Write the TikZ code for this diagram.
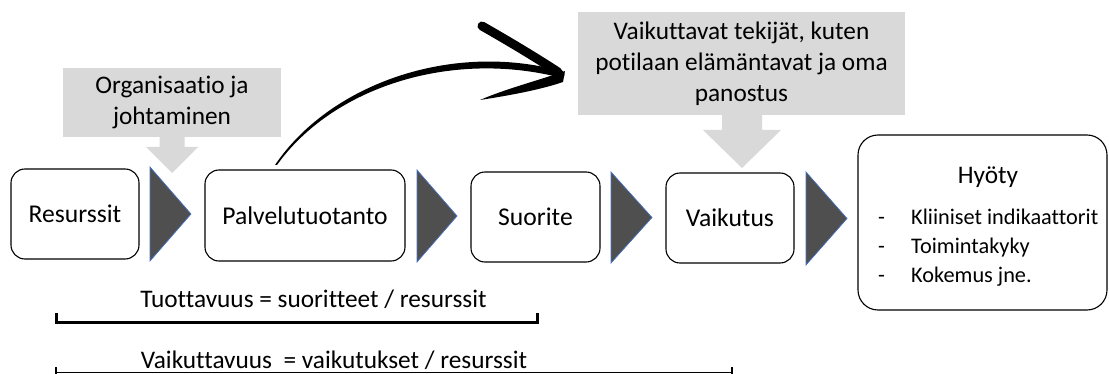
\documentclass[tikz,border=0pt]{standalone}
\usepackage{fontspec}
\setmainfont[Ligatures={NoCommon}]{Carlito}
\definecolor{calloutgray}{HTML}{D9D9D9}
\definecolor{tridark}{HTML}{4F4F4F}
\definecolor{triblue}{HTML}{4472C4}
\begin{document}
\begin{tikzpicture}[x=1pt,y=-1pt,
  rbox/.style={draw=black, line width=1.1pt, rounded corners=14pt, fill=white,
    font=\fontsize{25.6}{30}\selectfont, inner sep=0pt},
  tri/.style={fill=tridark, draw=triblue, line width=0.7pt, line join=miter},
  callout/.style={fill=calloutgray, draw=none, font=\fontsize{25.3}{31}\selectfont,
    align=center, inner sep=0pt},
  bigtxt/.style={font=\fontsize{25.3}{30}\selectfont, inner sep=0pt, anchor=base},
  itemtxt/.style={font=\fontsize{22.3}{29}\selectfont, inner sep=0pt, anchor=base west},
  brush/.style={fill=black, draw=none}]
\useasboundingbox (0,0) rectangle (1109,374);

% callouts
\node[callout, minimum width=218pt, minimum height=69pt] (org) at (172,102.5) {Organisaatio ja\\johtaminen};
\fill[calloutgray] (159.5,136.5) -- (159.5,147) -- (146,147) -- (172,173) -- (198,147) -- (184.5,147) -- (184.5,136.5) -- cycle;

\node[callout, minimum width=327pt, minimum height=103pt] (tek) at (741.5,63.5) {Vaikuttavat tekijät, kuten\\potilaan elämäntavat ja oma\\panostus};
\fill[calloutgray] (722,114.5) -- (722,130) -- (703,130) -- (742,168) -- (781,130) -- (762,130) -- (762,114.5) -- cycle;

% process boxes
\node[rbox, minimum width=128pt, minimum height=90pt] (res) at (75,214) {Resurssit};
\node[rbox, minimum width=200pt, minimum height=91pt] (pal) at (305,215.5) {Palvelutuotanto};
\node[rbox, minimum width=129pt, minimum height=90pt] (suo) at (535.5,217) {Suorite};
\node[rbox, minimum width=128pt, minimum height=90pt] (vai) at (730,218) {Vaikutus};
\node[rbox, minimum width=249pt, minimum height=175pt, rounded corners=20pt] (hyo) at (982.5,222.5) {};

% chevrons
\path[tri] (150,167) -- (191,214) -- (150,261) -- cycle;
\path[tri] (417,170) -- (457,216) -- (417,262) -- cycle;
\path[tri] (611,172) -- (652,217.5) -- (611,263) -- cycle;
\path[tri] (806,172) -- (847,218.5) -- (806,265) -- cycle;

% Hyoty content
\node[font=\fontsize{25.3}{30}\selectfont, inner sep=0pt, anchor=base] (hyot) at (988,184) {Hyöty};
\node[itemtxt] (d1) at (878,225) {-};
\node[itemtxt] (i1) at (911,225) {Kliiniset indikaattorit};
\node[itemtxt] (d2) at (878,254) {-};
\node[itemtxt] (i2) at (911,254) {Toimintakyky};
\node[itemtxt] (d3) at (878,283) {-};
\node[itemtxt] (i3) at (911,283) {Kokemus jne.};

% big hand-drawn arrow
\coordinate (arrS) at (275,165);
\coordinate (arrE) at (563,75);
\fill[brush] (arrS) .. controls (329,85) and (450,41) .. (561,71) -- (562,78) .. controls (450,49) and (332,88) .. (277,165) -- cycle;
\draw[line width=9pt, line cap=round] (482,26) .. controls (510,42) and (535,57) .. (558,72);
\fill[brush] (565,71) .. controls (540,80) and (505,89) .. (480,100) .. controls (506,96) and (540,90) .. (563,82) -- cycle;
\fill[brush] (arrE) ++(-4,0) circle (5.5pt);

% measures
\node[bigtxt] (tuo) at (313.5,307) {Tuottavuus = suoritteet / resurssit};
\draw[line width=3pt, line join=miter] (56,313) -- (56,322) -- (537,322) -- (537,313);
\node[bigtxt] (vaik) at (334,368) {Vaikuttavuus\ \ = vaikutukset / resurssit};
\draw[line width=1.3pt] (56,372.5) -- (732,372.5);
\draw[line width=2.6pt] (56,367) -- (56,374) (732,367) -- (732,374);
\end{tikzpicture}
\end{document}
